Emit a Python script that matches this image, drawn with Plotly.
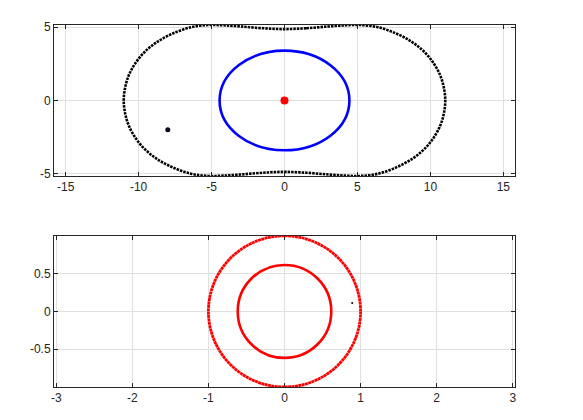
import plotly.graph_objects as go

# top panel: outer dotted boundary (going clockwise from top)
outer_x = [0, 1.5, 3.0, 4.2, 5.2, 6.4, 7.7, 8.8, 9.65, 10.25, 10.68, 10.92, 11.02,
           10.92, 10.68, 10.25, 9.65, 8.8, 7.7, 6.4, 5.2, 4.2, 3.0, 1.5, 0,
           -1.5, -3.0, -4.2, -5.2, -6.4, -7.7, -8.8, -9.65, -10.25, -10.68, -10.92, -11.02,
           -10.92, -10.68, -10.25, -9.65, -8.8, -7.7, -6.4, -5.2, -4.2, -3.0, -1.5, 0]
outer_y = [4.87, 4.93, 5.05, 5.13, 5.15, 5.0, 4.55, 3.95, 3.25, 2.5, 1.7, 0.9, 0,
           -0.9, -1.7, -2.5, -3.25, -3.95, -4.55, -5.0, -5.15, -5.13, -5.05, -4.93, -4.87,
           -4.93, -5.05, -5.13, -5.15, -5.0, -4.55, -3.95, -3.25, -2.5, -1.7, -0.9, 0,
           0.9, 1.7, 2.5, 3.25, 3.95, 4.55, 5.0, 5.15, 5.13, 5.05, 4.93, 4.87]

# blue ellipse semi-axes
ellipse_a = 4.45
ellipse_b = 3.4

# single points
center_pt = (0, 0)
black_pt = (-8, -2)

# bottom panel: circle radii and the tiny stray point
outer_r = 1.0
inner_r = 0.615
stray_pt = (0.89, 0.11)

top_xticks = [-15, -10, -5, 0, 5, 10, 15]
top_yticks = [-5, 0, 5]
bot_xticks = [-3, -2, -1, 0, 1, 2, 3]
bot_yticks = [-0.5, 0, 0.5]

fig = go.Figure()

fig.add_trace(go.Scatter(x=outer_x, y=outer_y, mode="lines", line_shape="spline",
                         line=dict(color="black", width=2.6, dash="2.5px,1.0px"),
                         xaxis="x", yaxis="y", showlegend=False))
fig.add_trace(go.Scatter(x=[center_pt[0]], y=[center_pt[1]], mode="markers",
                         marker=dict(color="red", size=8), xaxis="x", yaxis="y",
                         showlegend=False))
fig.add_trace(go.Scatter(x=[black_pt[0]], y=[black_pt[1]], mode="markers",
                         marker=dict(color="#0a0a1a", size=5), xaxis="x", yaxis="y",
                         showlegend=False))
fig.add_trace(go.Scatter(x=[stray_pt[0]], y=[stray_pt[1]], mode="markers",
                         marker=dict(color="black", size=2), xaxis="x2", yaxis="y2",
                         showlegend=False))

fig.add_shape(type="circle", xref="x", yref="y",
              x0=-ellipse_a, x1=ellipse_a, y0=-ellipse_b, y1=ellipse_b,
              line=dict(color="blue", width=2.6))
fig.add_shape(type="circle", xref="x2", yref="y2",
              x0=-outer_r, x1=outer_r, y0=-outer_r, y1=outer_r,
              line=dict(color="red", width=2.8, dash="3px,0.4px"))
fig.add_shape(type="circle", xref="x2", yref="y2",
              x0=-inner_r, x1=inner_r, y0=-inner_r, y1=inner_r,
              line=dict(color="red", width=2.6))

ax = dict(showline=True, mirror="ticks", linecolor="#262626", linewidth=1,
          ticks="inside", ticklen=4, tickcolor="#262626",
          showgrid=True, gridcolor="#e0e0e0", gridwidth=1, zeroline=False,
          tickfont=dict(family="Liberation Sans, Arial", size=12, color="#262626"))

def lbl(v):
    return [str(t) for t in v]

# page body adds an 8px offset, so margins are shifted to compensate
fig.update_layout(
    width=583, height=420,
    margin=dict(l=46, r=76, t=15, b=41),
    paper_bgcolor="white", plot_bgcolor="white",
    xaxis=dict(ax, domain=[0, 1], anchor="y", range=[-15.8, 15.8],
               tickvals=top_xticks, ticktext=lbl(top_xticks)),
    yaxis=dict(ax, domain=[0.583, 1], anchor="x", range=[-5.15, 5.15],
               tickvals=top_yticks, ticktext=lbl(top_yticks)),
    xaxis2=dict(ax, domain=[0, 1], anchor="y2", range=[-3.03, 3.03],
                tickvals=bot_xticks, ticktext=lbl(bot_xticks)),
    yaxis2=dict(ax, domain=[0, 0.4176], anchor="x2", range=[-1, 1],
                tickvals=bot_yticks, ticktext=lbl(bot_yticks)),
)

fig.write_html("out.html")
